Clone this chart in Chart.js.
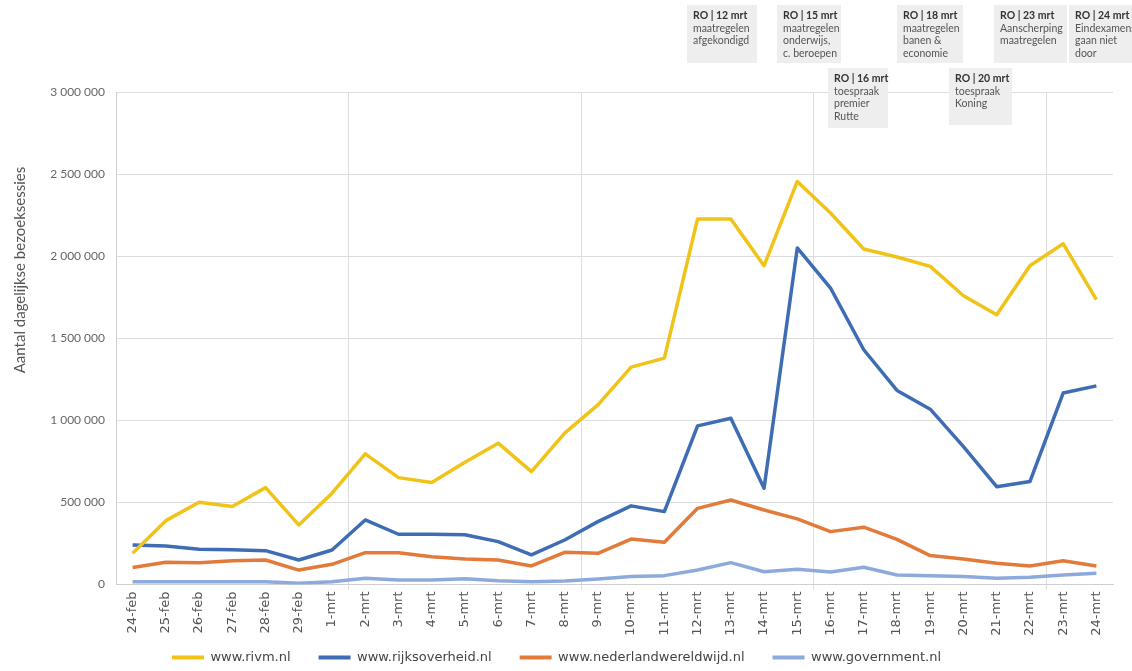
<!DOCTYPE html>
<html>
<head>
<meta charset="utf-8">
<script src="https://cdn.jsdelivr.net/npm/chart.js@4"></script>
<style>
  html, body { margin: 0; padding: 0; background: #fff; }
  #wrap { width: 1132px; height: 671px; }
</style>
</head>
<body>
<div id="wrap"><canvas id="bezoekChart"></canvas></div>
<script>
// dagen (24 feb t/m 24 mrt)
var dagen = ['24-feb', '25-feb', '26-feb', '27-feb', '28-feb', '29-feb',
    '1-mrt', '2-mrt', '3-mrt', '4-mrt', '5-mrt', '6-mrt', '7-mrt', '8-mrt', '9-mrt', '10-mrt',
    '11-mrt', '12-mrt', '13-mrt', '14-mrt', '15-mrt', '16-mrt', '17-mrt', '18-mrt', '19-mrt',
    '20-mrt', '21-mrt', '22-mrt', '23-mrt', '24-mrt'];

var rivm = [190000, 389000, 501000, 475000, 590000, 363000, 556000, 796000, 651000, 621000,
    745000, 861000, 688000, 922000, 1094000, 1324000, 1379000, 2227000, 2227000, 1942000,
    2455000, 2263000, 2044000, 1995000, 1938000, 1759000, 1643000, 1942000, 2076000, 1735000];

var rijksoverheid = [241000, 235000, 215000, 212000, 206000, 149000, 210000, 393000, 306000, 306000,
    303000, 261000, 180000, 271000, 383000, 479000, 444000, 966000, 1013000, 586000,
    2050000, 1806000, 1430000, 1182000, 1068000, 840000, 596000, 627000, 1166000, 1210000];

var nlWereldwijd = [103000, 135000, 133000, 145000, 149000, 88000, 123000, 194000, 194000, 169000,
    155000, 149000, 113000, 196000, 190000, 277000, 257000, 464000, 515000, 454000,
    400000, 322000, 349000, 275000, 176000, 155000, 129000, 113000, 145000, 113000];

var government = [17000, 17000, 17000, 17000, 17000, 7000, 17000, 38000, 27000, 27000,
    35000, 23000, 17000, 21000, 34000, 48000, 54000, 88000, 133000, 78000,
    93000, 76000, 105000, 58000, 54000, 48000, 38000, 44000, 58000, 68000];

var yTicks = [0, 500000, 1000000, 1500000, 2000000, 2500000, 3000000];

// persconferenties / toespraken
var momenten = [
    ['RO | 12 mrt', 'maatregelen', 'afgekondigd'],
    ['RO | 15 mrt', 'maatregelen', 'onderwijs,', 'c. beroepen'],
    ['RO | 16 mrt', 'toespraak', 'premier', 'Rutte'],
    ['RO | 18 mrt', 'maatregelen', 'banen &', 'economie'],
    ['RO | 20 mrt', 'toespraak', 'Koning'],
    ['RO | 23 mrt', 'Aanscherping', 'maatregelen'],
    ['RO | 24 mrt', 'Eindexamens', 'gaan niet', 'door']
];

function spaties(v) {
    return String(v).replace(/\B(?=(\d{3})+(?!\d))/g, ' ');
}

var gridKleur = '#dddddd';

function scheiding(c) {
    // om de 7 dagen een verticale lijn
    return (c.index % 7 === 0 && c.index > 0 && c.index < 30) ? gridKleur : 'transparent';
}

// kaders met de momenten + y-as titel
var extraTekst = {
    id: 'extraTekst',
    afterDraw: function(chart) {
        var ctx = chart.ctx;
        var kaders = [
            [687, 5, 70, 58], [777, 5, 64, 58], [828, 68, 60, 60], [897, 5, 66, 58],
            [949, 68, 63, 57], [994, 5, 73, 58], [1069, 5, 66, 58]
        ];
        ctx.save();
        momenten.forEach(function(regels, i) {
            var k = kaders[i];
            ctx.fillStyle = '#eeeeee';
            ctx.fillRect(k[0], k[1], k[2], k[3]);
            ctx.textBaseline = 'middle';
            ctx.textAlign = 'left';
            regels.forEach(function(r, j) {
                ctx.font = (j === 0 ? 'bold ' : '') + '10.5px Lato';
                ctx.fillStyle = j === 0 ? '#333' : '#555';
                ctx.fillText(r, k[0] + 6, k[1] + 11 + j * 12.5);
            });
        });
        ctx.translate(20, 270);
        ctx.rotate(-Math.PI / 2);
        ctx.font = '15px Lato';
        ctx.fillStyle = '#555';
        ctx.textAlign = 'center';
        ctx.fillText('Aantal dagelijkse bezoeksessies', 0, 0);
        ctx.restore();
    }
};

var ctx = document.getElementById('bezoekChart').getContext('2d');
var bezoekChart = new Chart(ctx, {
    type: 'line',
    data: {
        labels: dagen,
        datasets: [
            { label: 'www.rivm.nl', data: rivm, borderColor: '#f1c319', backgroundColor: '#f1c319' },
            { label: 'www.rijksoverheid.nl', data: rijksoverheid, borderColor: '#3f6db3', backgroundColor: '#3f6db3' },
            { label: 'www.nederlandwereldwijd.nl', data: nlWereldwijd, borderColor: '#e27b3a', backgroundColor: '#e27b3a' },
            { label: 'www.government.nl', data: government, borderColor: '#8eaadc', backgroundColor: '#8eaadc' }
        ]
    },
    options: {
        responsive: true,
        maintainAspectRatio: false,
        animation: false,
        devicePixelRatio: 1,
        elements: {
            line: { borderWidth: 3.5, tension: 0, borderJoinStyle: 'round' },
            point: { radius: 0 }
        },
        layout: { padding: { top: 92, right: 19, left: 0, bottom: -3 } },
        scales: {
            x: {
                offset: true,
                afterFit: function(scale) {
                    scale.height = 38.5;
                    // labels mogen onder de as-box doorlopen (legenda heeft daar lege ruimte)
                    scale._computeLabelArea = function() { return null; };
                },
                grid: {
                    offset: true,
                    tickLength: 5,
                    color: scheiding,
                    tickColor: scheiding
                },
                border: { color: '#d0d0d0' },
                ticks: {
                    autoSkip: false,
                    minRotation: 90,
                    maxRotation: 90,
                    padding: 2,
                    color: '#555',
                    font: { family: 'DejaVu Sans', size: 13 }
                }
            },
            y: {
                min: 0,
                max: 3000000,
                afterFit: function(scale) { scale.width = 116; },
                afterBuildTicks: function(scale) {
                    scale.ticks = yTicks.map(function(v) { return { value: v }; });
                },
                grid: { color: gridKleur, drawTicks: false },
                border: { color: '#d0d0d0' },
                ticks: {
                    padding: 11,
                    color: '#666',
                    font: { family: 'Lato', size: 12 },
                    callback: function(v) { return spaties(v); }
                }
            }
        },
        plugins: {
            title: { display: false },
            tooltip: { enabled: false },
            legend: {
                position: 'bottom',
                labels: {
                    boxWidth: 32,
                    boxHeight: 4,
                    padding: 28,
                    color: '#444',
                    font: { family: 'DejaVu Sans', size: 13 },
                    generateLabels: function(chart) {
                        return Chart.defaults.plugins.legend.labels.generateLabels(chart).map(function(item) {
                            item.lineWidth = 0;
                            item.fillStyle = item.strokeStyle;
                            return item;
                        });
                    }
                }
            }
        }
    },
    plugins: [extraTekst]
});
</script>
</body>
</html>
